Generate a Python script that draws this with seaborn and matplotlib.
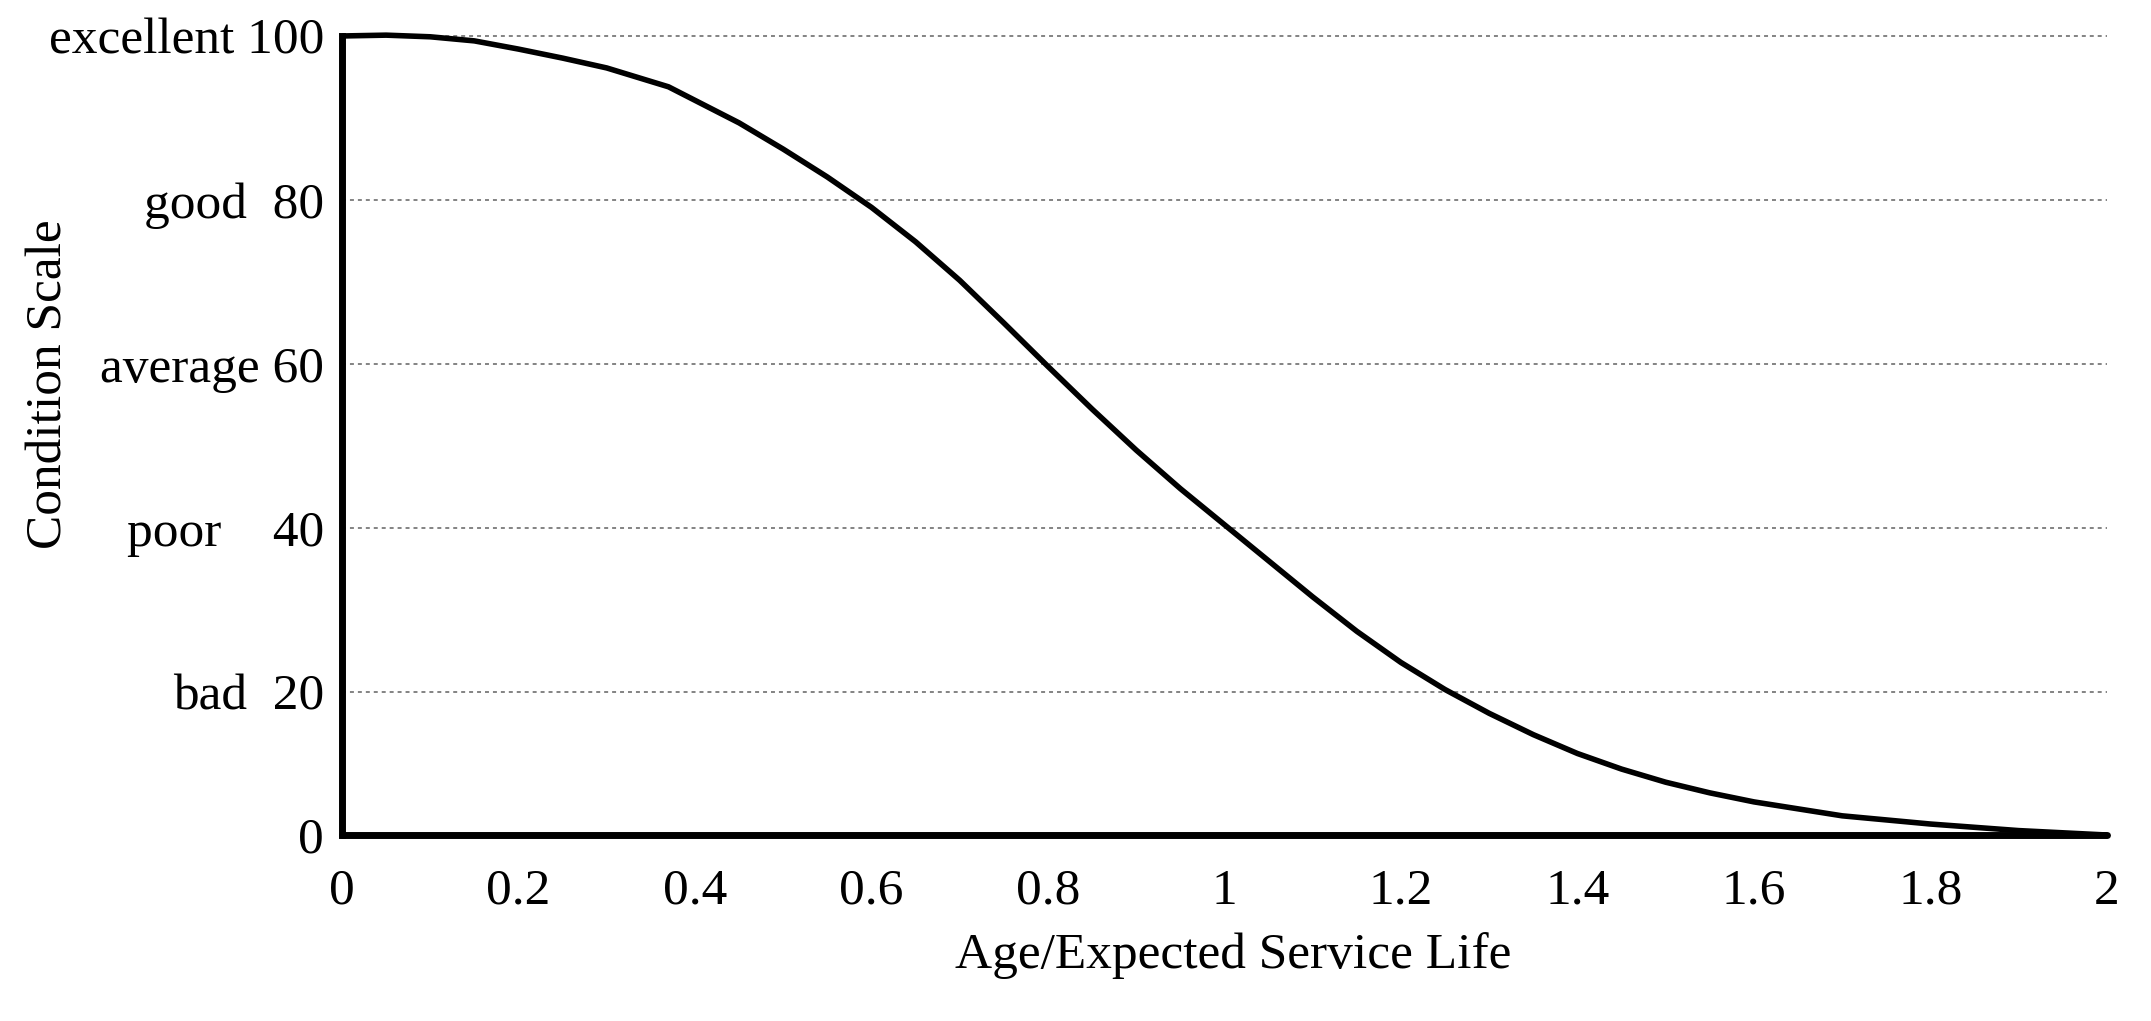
import numpy as np
import pandas as pd
import matplotlib
matplotlib.use("Agg")
import matplotlib.pyplot as plt
import seaborn as sns

sns.set_style("white")
plt.rcParams['font.family'] = ['Liberation Serif', 'DejaVu Serif']

# curve
age_ratio = [0, 0.05, 0.1, 0.15, 0.2, 0.25, 0.3, 0.37, 0.45, 0.5, 0.55, 0.6,
             0.65, 0.7, 0.75, 0.8, 0.85, 0.9, 0.95, 1.0, 1.05, 1.1, 1.15,
             1.2, 1.25, 1.3, 1.35, 1.4, 1.45, 1.5, 1.55, 1.6, 1.7, 1.8,
             1.9, 2.0]
condition = [100, 100.1, 99.9, 99.4, 98.4, 97.3, 96.1, 93.8, 89.4, 86.2,
             82.8, 79.1, 74.9, 70.2, 65.0, 59.7, 54.5, 49.5, 44.8, 40.4,
             36.0, 31.6, 27.4, 23.6, 20.3, 17.4, 14.8, 12.5, 10.6, 9.0,
             7.7, 6.6, 4.9, 3.9, 3.1, 2.56]

x_ticks = [0, 0.2, 0.4, 0.6, 0.8, 1, 1.2, 1.4, 1.6, 1.8, 2]
x_labels = ['0', '0.2', '0.4', '0.6', '0.8', '1', '1.2', '1.4', '1.6', '1.8', '2']
grid_levels = [20, 40, 60, 80, 100]
y_labels = ['0', 'bad  20', 'poor    40', 'average 60', 'good  80', 'excellent 100']

floor = 2.56  # the drawn x axis sits a little above 0 in the original

df = pd.DataFrame({'age': age_ratio, 'cond': condition})

fig = plt.figure(figsize=(21.51, 10.21), dpi=100)
ax = fig.add_axes([0.159, 0.1616, 0.8205, 0.8112])

for g in grid_levels:
    ax.axhline(g, color='#7a7a7a', lw=1.3, linestyle=(0, (2.2, 2.2)), zorder=1)

sns.lineplot(data=df, x='age', y='cond', color='black', lw=4, ax=ax, zorder=3)
ax.lines[-1].set_solid_joinstyle('round')
ax.lines[-1].set_solid_capstyle('round')

ax.set_xlim(0, 2.0)
ax.set_ylim(0, 101)

ax.set_xticks(x_ticks)
ax.set_xticklabels(x_labels)
ax.set_yticks([floor] + grid_levels)
ax.set_yticklabels(y_labels)
ax.tick_params(axis='both', length=0, labelsize=37, colors='black')
ax.tick_params(axis='x', pad=24)
ax.tick_params(axis='y', pad=13)

for s in ['top', 'right']:
    ax.spines[s].set_visible(False)
for s in ['left', 'bottom']:
    ax.spines[s].set_color('black')
    ax.spines[s].set_linewidth(5)
ax.spines['bottom'].set_position(('data', floor))
ax.spines['left'].set_bounds(floor, 100)
ax.spines['bottom'].set_capstyle('round')

ax.set_xlabel('Age/Expected Service Life', fontsize=37, color='black')
ax.set_ylabel('Condition Scale', fontsize=37, color='black')
ax.xaxis.label.set_va('center')
ax.xaxis.set_label_coords(0.505, -0.12)
ax.yaxis.label.set_va('center')
ax.yaxis.label.set_ha('center')
ax.yaxis.set_label_coords(-0.166, 0.57)

fig.savefig('out.png', dpi=100)
